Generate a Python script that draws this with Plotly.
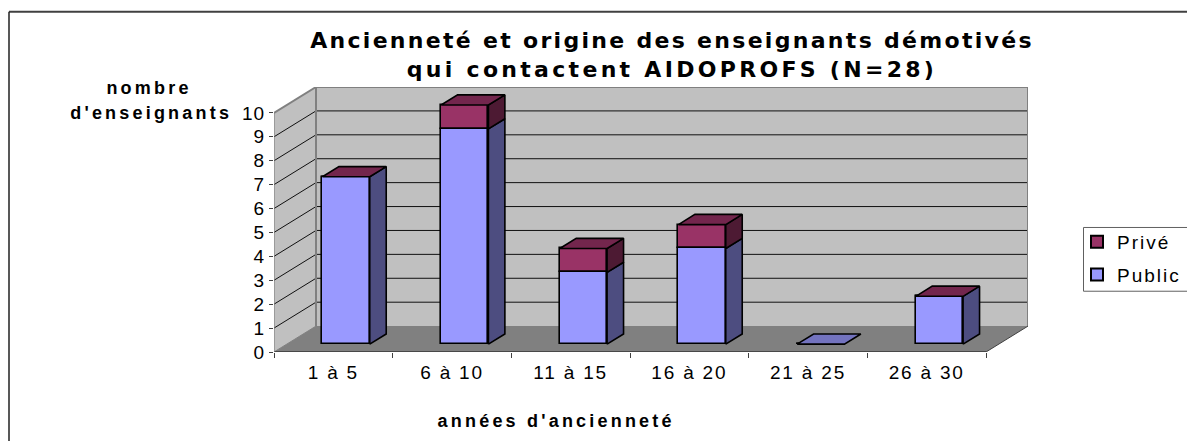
import plotly.graph_objects as go

categories = ["1 à 5", "6 à 10", "11 à 15", "16 à 20", "21 à 25", "26 à 30"]
public = [7, 9, 3, 4, 0, 2]
prive = [0, 1, 1, 1, 0, 0]
value_ticks = list(range(0, 11))
title_text = "Ancienneté et origine des enseignants démotivés<br>qui contactent AIDOPROFS (N=28)"

W, H = 1187, 441
L, R, T, B = 274.0, 1028.0, 86.5, 352.5
UX = (986.0 - 274.0) / len(categories)   # px per category
UY = 24.0                                # px per value unit
DX = (R - 274.0 - (986.0 - 274.0)) / UX  # depth, category units
DY = (B - T - 10 * UY) / UY              # depth, value units
D0, D1 = 0.304, 0.696                    # bar front/back depth fraction
BAR_W = 47.3 / UX
n = len(categories)


def proj(x, v, d):
    return x + d * DX, v + d * DY


def px(x):
    return (x - L) / (R - L)


def py(y):
    return (B - y) / (B - T)


def poly(pts):
    return "M" + " L".join(f"{a:.4f},{b:.4f}" for a, b in pts) + " Z"


def seg(p, q, color, width):
    return dict(type="line", xref="x", yref="y", layer="below", x0=p[0], y0=p[1], x1=q[0], y1=q[1],
                line=dict(color=color, width=width))


def frame(x0, y0, x1, y1, color, width):
    return dict(type="line", xref="paper", yref="paper", x0=px(x0), x1=px(x1), y0=py(y0), y1=py(y1),
                line=dict(color=color, width=width))


def face(pts, fill, **kw):
    return go.Scatter(x=[p[0] for p in pts] + [pts[0][0]], y=[p[1] for p in pts] + [pts[0][1]],
                      mode="lines", fill="toself", fillcolor=fill,
                      line=dict(color="black", width=1.6), showlegend=False, hoverinfo="skip", **kw)


shapes = []
# walls and floor
shapes.append(dict(type="path", xref="x", yref="y", layer="below", line_width=0, fillcolor="#C0C0C0",
                   path=poly([proj(0, 0, 0), proj(0, 0, 1), proj(0, 10, 1), proj(0, 10, 0)])))
shapes.append(dict(type="path", xref="x", yref="y", layer="below", line_width=0, fillcolor="#C0C0C0",
                   path=poly([proj(0, 0, 1), proj(n, 0, 1), proj(n, 10, 1), proj(0, 10, 1)])))
shapes.append(dict(type="path", xref="x", yref="y", layer="below", line_width=0, fillcolor="#808080",
                   path=poly([proj(0, 0, 0), proj(n, 0, 0), proj(n, 0, 1), proj(0, 0, 1)])))
# gridlines
for v in value_ticks[1:-1]:
    shapes.append(seg(proj(0, v, 0), proj(0, v, 1), "#101010", 1))
    shapes.append(seg(proj(0, v, 1), proj(n, v, 1), "#101010", 1))
# wall edges
shapes.append(seg(proj(0, 10, 0), proj(0, 10, 1), "#808080", 2))
shapes.append(seg(proj(0, 10, 1), proj(n, 10, 1), "#808080", 2))
shapes.append(seg(proj(0, 0, 1), proj(0, 10, 1), "#808080", 2))
shapes.append(seg(proj(n, 0, 1), proj(n, 10, 1), "#808080", 2))
shapes.append(seg(proj(0, 0, 0), proj(0, 0, 1), "#808080", 1))
shapes.append(seg(proj(n, 0, 0), proj(n, 0, 1), "#404040", 1))
# front edge and value axis line
shapes.append(seg(proj(0, 0, 0), proj(n, 0, 0), "#101010", 1.2))
shapes.append(seg(proj(0, 0, 0), proj(0, 10, 0), "#808080", 1.2))
# outer chart frame (open on right and bottom in the source image)
shapes.append(frame(9, 11, W + 5, 11, "#404040", 2))
shapes.append(frame(9, 11, 9, H + 5, "#202020", 1.5))
# legend frame (runs off the right edge in the source image)
shapes.append(frame(1083.5, 227.5, W + 5, 227.5, "#606060", 1))
shapes.append(frame(1083.5, 227.5, 1083.5, 291.5, "#606060", 1))
shapes.append(frame(1083.5, 291.5, W + 5, 291.5, "#606060", 1))

fig = go.Figure()

xs = [i + 0.5 + D0 * DX for i in range(n)]
base_pub = [D0 * DY] * n
base_pri = [D0 * DY + p for p in public]
fig.add_bar(name="Privé", x=xs, y=prive, base=base_pri, width=BAR_W, legendgroup="a",
            marker=dict(color="#993366", line=dict(color="black", width=1.6)), hoverinfo="skip")
fig.add_bar(name="Public", x=xs, y=public, base=base_pub, width=BAR_W, legendgroup="b",
            marker=dict(color="#9999FF", line=dict(color="black", width=1.6)), hoverinfo="skip")

for i in range(n):
    x0 = i + 0.5 - BAR_W / 2
    x1 = i + 0.5 + BAR_W / 2
    pub, pri = public[i], prive[i]
    total = pub + pri
    if pub > 0:
        fig.add_trace(face([proj(x1, 0, D0), proj(x1, 0, D1), proj(x1, pub, D1), proj(x1, pub, D0)], "#4D4D80"))
    if pri > 0:
        fig.add_trace(face([proj(x1, pub, D0), proj(x1, pub, D1), proj(x1, total, D1), proj(x1, total, D0)], "#4D1A33"))
    top_col = "#73264D" if total > 0 else "#7373BF"
    fig.add_trace(face([proj(x0, total, D0), proj(x1, total, D0), proj(x1, total, D1), proj(x0, total, D1)], top_col))

AXIS_FONT = dict(family="Liberation Sans, Arial, sans-serif", size=19, color="black")
BOLD = dict(family="Liberation Sans, Arial, sans-serif", size=18, color="black", weight="bold")


def label(text, cx, cy):
    return dict(text=text, xref="paper", yref="paper", x=px(cx), y=py(cy), xanchor="center", yanchor="middle",
                showarrow=False, font=BOLD)


fig.update_layout(
    width=W, height=H, autosize=False,
    margin=dict(l=L, r=W - R, t=T, b=H - B, pad=0, autoexpand=False),
    paper_bgcolor="white", plot_bgcolor="white",
    barmode="overlay", bargap=0,
    title=dict(text=title_text, x=px(672), y=1 - 48 / H, xref="paper", yref="container", xanchor="center", yanchor="middle",
               font=dict(family="DejaVu Sans, sans-serif", size=22, color="black", weight="bold")),
    xaxis=dict(range=[0, n + DX], tickvals=[i + 0.5 for i in range(n)], ticktext=categories,
               showgrid=False, zeroline=False, ticks="", showline=False, tickfont=AXIS_FONT, ticklabelstandoff=7,
               minor=dict(tickvals=list(range(n + 1)), ticks="outside", ticklen=5, tickcolor="#404040", tickwidth=1, showgrid=False)),
    yaxis=dict(range=[0, 10 + DY], tickvals=value_ticks, showgrid=False, zeroline=False, showline=False,
               ticks="outside", ticklen=4, tickcolor="#404040", tickwidth=1, tickfont=AXIS_FONT),
    legend=dict(x=px(1077), y=py(223), xanchor="left", yanchor="top", traceorder="grouped", tracegroupgap=5,
                bgcolor="rgba(0,0,0,0)", borderwidth=0, font=AXIS_FONT, itemsizing="constant",
                entrywidth=90, entrywidthmode="pixels"),
    shapes=shapes,
    annotations=[label("nombre", 149, 88), label("d'enseignants", 151, 113), label("années d'ancienneté", 556, 422)],
)

css = """
var s=document.createElement('style');
s.textContent="html,body{margin:0;padding:0;overflow:hidden;background:#fff}"
+".gtitle{letter-spacing:2.3px}.gtitle .line:last-child{letter-spacing:3.3px}.annotation-text{letter-spacing:3.2px}"
+".xtick text{letter-spacing:1.8px}.ytick text{letter-spacing:1px}.legendtext{letter-spacing:2px}"
+".legend .scrollbox{clip-path:none!important}";
document.head.appendChild(s);
"""
fig.write_html("out.html", post_script=css, config=dict(displayModeBar=False))
